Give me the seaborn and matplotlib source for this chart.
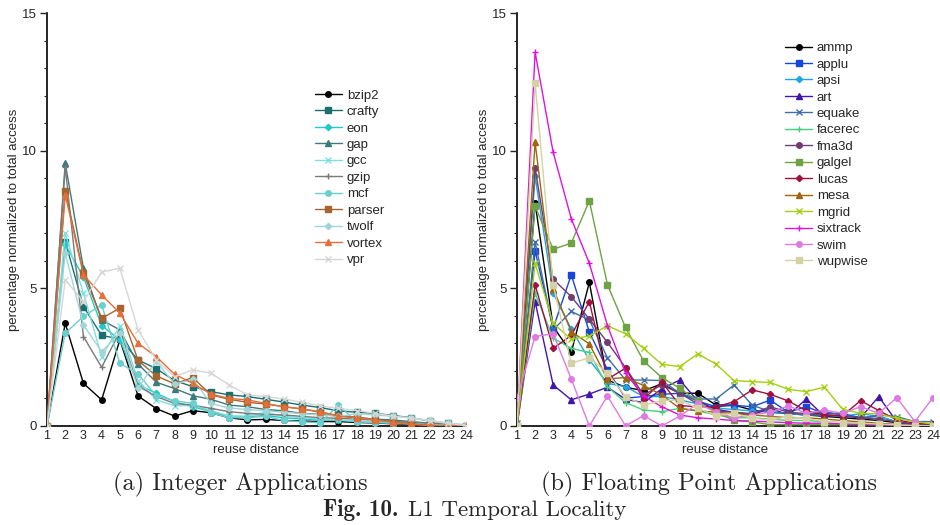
import numpy as np
import pandas as pd
import matplotlib
matplotlib.use("Agg")
import matplotlib.pyplot as plt
from matplotlib.ticker import MultipleLocator
import seaborn as sns

# ---------------- data ----------------
distance = list(range(1, 25))
xtick_labels = [str(d) for d in distance]

int_names = ["bzip2", "crafty", "eon", "gap", "gcc", "gzip", "mcf", "parser", "twolf", "vortex", "vpr"]
bzip2 = [0, 3.73, 1.55, 0.95, 3.13, 1.09, 0.63, 0.36, 0.56, 0.48, 0.30, 0.22, 0.24, 0.20, 0.18, 0.16, 0.16, 0.13, 0.11, 0.08, 0.06, 0.04, 0.02, 0.0]
crafty = [0, 6.70, 4.34, 3.29, 3.16, 2.40, 2.08, 1.65, 1.43, 1.25, 1.13, 1.07, 0.97, 0.87, 0.76, 0.67, 0.55, 0.50, 0.46, 0.38, 0.30, 0.18, 0.10, 0.01]
eon = [0, 6.60, 5.41, 3.65, 3.13, 1.49, 1.19, 0.88, 0.70, 0.52, 0.36, 0.34, 0.38, 0.30, 0.25, 0.22, 0.20, 0.17, 0.14, 0.11, 0.08, 0.05, 0.03, 0.01]
gap = [0, 9.55, 5.73, 3.85, 3.49, 2.25, 1.59, 1.36, 1.10, 0.97, 0.76, 0.70, 0.60, 0.55, 0.46, 0.42, 0.36, 0.30, 0.25, 0.22, 0.16, 0.10, 0.06, 0.01]
gcc = [0, 7.00, 4.82, 2.52, 3.64, 1.65, 0.95, 0.74, 0.74, 0.56, 0.36, 0.36, 0.50, 0.35, 0.30, 0.25, 0.22, 0.18, 0.15, 0.12, 0.09, 0.06, 0.03, 0.01]
gzip = [0, 9.40, 3.25, 2.13, 3.43, 1.45, 1.07, 0.82, 0.76, 0.64, 0.52, 0.46, 0.42, 0.40, 0.35, 0.30, 0.28, 0.25, 0.21, 0.17, 0.13, 0.09, 0.05, 0.02]
mcf = [0, 3.37, 3.98, 4.40, 2.28, 1.89, 1.10, 0.92, 0.82, 0.48, 0.30, 0.30, 0.35, 0.20, 0.15, 0.12, 0.76, 0.15, 0.12, 0.10, 0.08, 0.05, 0.03, 0.01]
parser = [0, 8.55, 5.55, 3.91, 4.28, 2.38, 1.82, 1.53, 1.76, 1.13, 0.97, 0.86, 0.80, 0.70, 0.62, 0.50, 0.38, 0.32, 0.24, 0.15, 0.08, 0.02, 0.01, 0.0]
twolf = [0, 6.28, 3.67, 2.70, 3.37, 1.37, 2.36, 1.52, 1.70, 0.82, 0.65, 0.60, 0.55, 0.50, 0.45, 0.40, 0.35, 0.45, 0.40, 0.35, 0.30, 0.20, 0.10, 0.05]
vortex = [0, 8.40, 5.49, 4.76, 4.10, 3.00, 2.52, 1.88, 1.55, 1.16, 1.00, 0.95, 0.82, 0.70, 0.62, 0.52, 0.36, 0.30, 0.22, 0.13, 0.06, 0.01, 0.01, 0.0]
vpr = [0, 5.31, 4.52, 5.59, 5.73, 3.49, 2.40, 1.79, 2.04, 1.92, 1.49, 1.13, 1.07, 0.98, 0.86, 0.73, 0.64, 0.56, 0.46, 0.36, 0.28, 0.19, 0.10, 0.01]
int_values = [bzip2, crafty, eon, gap, gcc, gzip, mcf, parser, twolf, vortex, vpr]

fp_names = ["ammp", "applu", "apsi", "art", "equake", "facerec", "fma3d", "galgel", "lucas", "mesa", "mgrid", "sixtrack", "swim", "wupwise"]
ammp = [0, 8.10, 3.61, 2.67, 5.22, 1.67, 1.41, 1.28, 1.53, 1.19, 1.19, 0.76, 0.76, 0.58, 0.50, 0.45, 0.40, 0.35, 0.30, 0.25, 0.20, 0.12, 0.05, 0.02]
applu = [0, 6.36, 3.55, 5.49, 3.41, 2.04, 1.01, 1.07, 1.15, 1.19, 0.90, 0.70, 0.75, 0.70, 0.94, 0.50, 0.70, 0.45, 0.45, 0.30, 0.35, 0.15, 0.05, 0.03]
apsi = [0, 9.07, 4.82, 3.53, 2.40, 1.55, 1.43, 1.07, 1.07, 0.95, 0.80, 0.65, 0.60, 0.55, 0.50, 0.45, 0.40, 0.40, 0.35, 0.45, 0.35, 0.15, 0.05, 0.02]
art = [0, 4.52, 1.49, 0.95, 1.16, 1.41, 0.97, 0.85, 1.35, 1.67, 0.90, 0.60, 0.50, 0.40, 0.65, 0.40, 0.98, 0.35, 0.40, 0.30, 1.07, 0.15, 0.05, 0.03]
equake = [0.1, 6.70, 3.49, 4.16, 3.85, 2.48, 1.67, 1.67, 1.65, 1.19, 0.98, 0.98, 1.49, 0.76, 0.52, 0.46, 0.40, 0.52, 0.40, 0.28, 0.40, 0.34, 0.16, 0.16]
facerec = [0, 4.82, 3.19, 2.82, 2.67, 1.43, 0.85, 0.58, 0.52, 0.64, 0.55, 0.40, 0.30, 0.30, 0.25, 0.20, 0.20, 0.15, 0.12, 0.10, 0.08, 0.05, 0.02, 0.01]
fma3d = [0, 9.37, 5.33, 4.70, 3.88, 3.04, 2.12, 1.13, 1.49, 1.19, 0.80, 0.55, 0.50, 0.45, 0.70, 0.50, 0.45, 0.40, 0.35, 0.30, 0.25, 0.15, 0.05, 0.02]
galgel = [0, 7.98, 6.42, 6.64, 8.18, 5.13, 3.58, 2.36, 1.76, 1.37, 0.90, 0.50, 0.20, 0.15, 0.05, 0.05, 0.05, 0.05, 0.05, 0.05, 0.05, 0.02, 0.0, 0.0]
lucas = [0, 5.13, 2.82, 3.29, 4.52, 1.70, 2.10, 0.97, 1.61, 0.74, 0.70, 0.70, 0.88, 1.31, 1.15, 0.91, 0.55, 0.40, 0.38, 0.92, 0.56, 0.22, 0.10, 0.07]
mesa = [0, 10.31, 4.98, 3.43, 2.98, 1.71, 1.76, 1.47, 1.13, 0.64, 0.55, 0.50, 0.45, 0.40, 0.35, 0.30, 0.30, 0.25, 0.20, 0.15, 0.10, 0.05, 0.02, 0.01]
mgrid = [0, 5.91, 3.73, 3.15, 3.27, 3.64, 3.35, 2.82, 2.24, 2.16, 2.62, 2.25, 1.65, 1.61, 1.58, 1.33, 1.25, 1.41, 0.61, 0.46, 0.44, 0.28, 0.16, 0.07]
sixtrack = [0, 13.58, 9.94, 7.53, 5.91, 3.65, 1.92, 1.09, 0.70, 0.40, 0.30, 0.25, 0.20, 0.18, 0.15, 0.12, 0.10, 0.10, 0.08, 0.06, 0.05, 0.03, 0.02, 0.01]
swim = [1.02, 3.25, 3.35, 1.71, 0.0, 1.09, 0.0, 0.38, 0.0, 0.36, 0.82, 0.50, 0.30, 0.40, 0.50, 0.73, 0.46, 0.58, 0.46, 0.70, 0.46, 1.03, 0.16, 1.03]
wupwise = [0, 12.46, 5.13, 2.28, 2.48, 1.92, 1.07, 0.76, 0.92, 0.95, 0.64, 0.38, 0.46, 0.28, 0.22, 0.34, 0.28, 0.16, 0.12, 0.10, 0.07, 0.04, 0.01, 0.01]
fp_values = [ammp, applu, apsi, art, equake, facerec, fma3d, galgel, lucas, mesa, mgrid, sixtrack, swim, wupwise]

# ---------------- styles ----------------
int_colors = ["#000000", "#1b6f6f", "#22c8c8", "#3f7a7a", "#7fe0e0", "#7a7a7a",
              "#6ccfcf", "#a8642e", "#a2d6d6", "#e0703c", "#d6d6d6"]
fp_colors = ["#000000", "#1846d8", "#22a4e0", "#4216a8", "#3f6ea8", "#44d07a", "#6e3e72",
             "#6fa244", "#a01040", "#a0660e", "#a4d010", "#e012e0", "#e07ae0", "#d4d2a4"]
marker_cycle = ["o", "s", "D", "^", "x", "+"]

sns.set_style("white")
plt.rcParams["font.family"] = ["Liberation Sans", "DejaVu Sans"]
plt.rcParams["axes.unicode_minus"] = False

fig = plt.figure(figsize=(9.4, 5.25), dpi=100)
W, H = 940, 525
ax1 = fig.add_axes([47 / W, (H - 426) / H, 419 / W, 413 / H])
ax2 = fig.add_axes([517 / W, (H - 426) / H, 416 / W, 413 / H])


def draw(ax, names, values, colors):
    for i, (n, v, c) in enumerate(zip(names, values, colors)):
        m = marker_cycle[i % len(marker_cycle)]
        ms = 4 if m in ("o", "s", "^") else (3.2 if m == "D" else 4.5)
        sns.lineplot(x=distance, y=v, ax=ax, color=c, marker=m, markersize=ms,
                     markeredgecolor=c, markeredgewidth=1.0, linewidth=1.0,
                     label=n, legend=False)
    ax.set_xlim(1, 24)
    ax.set_ylim(0, 15)
    ax.set_xticks(distance)
    ax.set_xticklabels(xtick_labels)
    ax.yaxis.set_major_locator(MultipleLocator(5))
    ax.yaxis.set_minor_locator(MultipleLocator(1))
    ax.tick_params(axis="x", length=0, labelsize=9, pad=3)
    ax.tick_params(axis="y", which="major", length=5, width=1, labelsize=9.5, pad=2, left=True)
    ax.tick_params(axis="y", which="minor", length=2.5, width=0.8, left=True)
    for s in ["top", "right"]:
        ax.spines[s].set_visible(False)
    for s in ["left", "bottom"]:
        ax.spines[s].set_linewidth(1.2)
        ax.spines[s].set_color("black")
        ax.spines[s].set_zorder(0.5)
    ax.set_xlabel("reuse distance", fontsize=9.5, labelpad=1)
    ax.set_ylabel("percentage normalized to total access", fontsize=9.5, labelpad=2)
    ax.grid(False)


draw(ax1, int_names, int_values, int_colors)
draw(ax2, fp_names, fp_values, fp_colors)

for ax, anchor in [(ax1, (0.64, 0.815)), (ax2, (0.645, 0.93))]:
    ax.legend(loc="upper left", bbox_to_anchor=anchor, frameon=False, fontsize=9.5,
              handlelength=2.0, handletextpad=0.4, labelspacing=0.32,
              borderpad=0, borderaxespad=0)

cap_font = dict(family="cmr10", fontsize=17.5)
fig.text(240 / W, 1 - 484 / H, "(a) Integer Applications", ha="center", va="center", **cap_font)
fig.text(709 / W, 1 - 484 / H, "(b) Floating Point Applications", ha="center", va="center", **cap_font)
fig.text(398 / W, 1 - 510 / H, "Fig. 10.", ha="right", va="center", family="cmb10", fontsize=16.5)
fig.text(408 / W, 1 - 510 / H, "L1 Temporal Locality", ha="left", va="center", family="cmr10", fontsize=16.5)

fig.savefig("out.png", dpi=100)
